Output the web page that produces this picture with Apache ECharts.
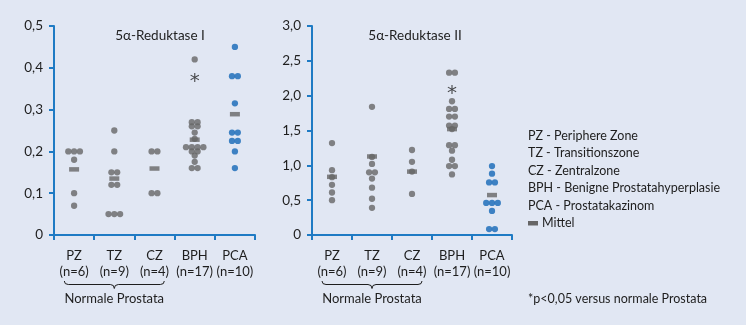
<!DOCTYPE html>
<html>
<head>
<meta charset="utf-8">
<script src="https://cdn.jsdelivr.net/npm/echarts@6/dist/echarts.min.js"></script>
<style>
  html, body { margin: 0; padding: 0; background: #e1e7f3; }
  #main { width: 746px; height: 325px; }
</style>
</head>
<body>
<div id="main"></div>
<script>
// categories and group sizes
var categories = ['PZ', 'TZ', 'CZ', 'BPH', 'PCA'];
var nLabels = ['(n=6)', '(n=9)', '(n=4)', '(n=17)', '(n=10)'];

// 5a-Reduktase I, single values per group
var r1_PZ = [0.2, 0.2, 0.2, 0.18, 0.1, 0.07];
var r1_TZ = [0.25, 0.2, 0.15, 0.15, 0.12, 0.12, 0.05, 0.05, 0.05];
var r1_CZ = [0.2, 0.2, 0.1, 0.1];
var r1_BPH = [0.42, 0.27, 0.27, 0.26, 0.26, 0.245, 0.23, 0.21, 0.21, 0.21, 0.21, 0.2, 0.2, 0.19, 0.175, 0.16, 0.16];
var r1_PCA = [0.45, 0.38, 0.38, 0.315, 0.245, 0.245, 0.225, 0.225, 0.2, 0.16];
var r1_mean = [0.157, 0.135, 0.159, 0.228, 0.289];
var r1_sig = [null, null, null, 0.378, null];
var r1_ticks = [0, 0.1, 0.2, 0.3, 0.4, 0.5];

// 5a-Reduktase II
var r2_PZ = [1.32, 0.93, 0.83, 0.72, 0.61, 0.5];
var r2_TZ = [1.84, 1.12, 1.02, 0.9, 0.9, 0.81, 0.68, 0.52, 0.39];
var r2_CZ = [1.22, 1.05, 0.91, 0.59];
var r2_BPH = [2.33, 2.33, 1.92, 1.81, 1.81, 1.7, 1.7, 1.57, 1.57, 1.52, 1.29, 1.29, 1.21, 1.08, 0.99, 0.99, 0.87];
var r2_PCA = [0.99, 0.88, 0.755, 0.755, 0.46, 0.46, 0.46, 0.345, 0.085, 0.085];
var r2_mean = [0.835, 1.127, 0.91, 1.52, 0.573];
var r2_sig = [null, null, null, 2.1, null];
var r2_ticks = [0, 0.5, 1, 1.5, 2, 2.5, 3];

var legendLines = [
  'PZ - Periphere Zone',
  'TZ - Transitionszone',
  'CZ - Zentralzone',
  'BPH - Benigne Prostatahyperplasie',
  'PCA - Prostatakazinom'
];

var GREY = '#666666';
var BLUE = '#1468b6';
var AXIS = '#1f7bc4';
var TEXT = '#1e1e1e';
var FONT = 'Lato';

// side by side dots for equal values
function swarm(groups) {
  var out = [];
  groups.forEach(function (vals, c) {
    var counts = {};
    vals.forEach(function (v) { counts[v] = (counts[v] || 0) + 1; });
    var seen = {};
    vals.forEach(function (v) {
      var n = counts[v];
      var i = seen[v] || 0;
      seen[v] = i + 1;
      out.push({
        value: [c, v],
        symbolOffset: [(i - (n - 1) / 2) * 5.8, 0],
        itemStyle: { color: c === 4 ? BLUE : GREY }
      });
    });
  });
  return out;
}

function fmt(v) {
  return v === 0 ? '0' : v.toFixed(1).replace('.', ',');
}

function makeAxes(idx, max, interval) {
  return {
    x: {
      type: 'category', gridIndex: idx, data: categories,
      axisLine: { lineStyle: { color: AXIS, width: 2 } },
      axisTick: { show: true, length: 5, interval: 0, lineStyle: { color: AXIS, width: 2 } },
      axisLabel: {
        color: TEXT, fontSize: 13, fontFamily: FONT, lineHeight: 16, margin: 13, interval: 0,
        formatter: function (v, i) { return v + '\n' + nLabels[i]; }
      },
      splitLine: { show: false }
    },
    y: {
      type: 'value', gridIndex: idx, min: 0, max: max, interval: interval,
      axisLine: { show: true, lineStyle: { color: AXIS, width: 2 } },
      axisTick: { show: true, length: 5, lineStyle: { color: AXIS, width: 2 } },
      axisLabel: { color: TEXT, fontSize: 13.5, fontFamily: FONT, margin: 11, formatter: fmt },
      splitLine: { show: false }
    }
  };
}

var a1 = makeAxes(0, r1_ticks[r1_ticks.length - 1], r1_ticks[1] - r1_ticks[0]);
var a2 = makeAxes(1, r2_ticks[r2_ticks.length - 1], r2_ticks[1] - r2_ticks[0]);

function chartSeries(idx, groups, means, sig) {
  return [
    {
      type: 'scatter', xAxisIndex: idx, yAxisIndex: idx, symbolSize: 6.3,
      data: swarm(groups), silent: true
    },
    {
      type: 'scatter', xAxisIndex: idx, yAxisIndex: idx, symbol: 'rect', symbolSize: [10, 4.5],
      itemStyle: { color: GREY },
      data: means.map(function (m, c) { return [c, m]; }), silent: true
    },
    {
      type: 'scatter', xAxisIndex: idx, yAxisIndex: idx, symbolSize: 1,
      itemStyle: { color: 'rgba(0,0,0,0)' },
      label: { show: true, position: 'inside', formatter: '*', color: TEXT, fontSize: 20, fontFamily: 'DejaVu Sans', offset: [0, 5] },
      data: sig.map(function (s, c) { return s === null ? null : [c, s]; }).filter(function (d) { return d; }),
      silent: true
    }
  ];
}

var myChart = echarts.init(document.getElementById('main'));

var option = {
  backgroundColor: '#e1e7f3',
  animation: false,
  title: [
    { text: '5\u03b1-Reduktase I', left: 155, top: 24, textAlign: 'center',
      textStyle: { fontSize: 13.5, fontWeight: 'normal', color: TEXT, fontFamily: FONT } },
    { text: '5\u03b1-Reduktase II', left: 410, top: 24, textAlign: 'center',
      textStyle: { fontSize: 13.5, fontWeight: 'normal', color: TEXT, fontFamily: FONT } }
  ],
  grid: [
    { left: 54, width: 201, top: 26, bottom: 90 },
    { left: 312, width: 200, top: 26, bottom: 90 }
  ],
  xAxis: [a1.x, a2.x],
  yAxis: [a1.y, a2.y],
  series: chartSeries(0, [r1_PZ, r1_TZ, r1_CZ, r1_BPH, r1_PCA], r1_mean, r1_sig)
    .concat(chartSeries(1, [r2_PZ, r2_TZ, r2_CZ, r2_BPH, r2_PCA], r2_mean, r2_sig))
};

myChart.setOption(option);

// curly brace under the normal prostate groups
function brace(xAxisIndex) {
  var xc = myChart.convertToPixel({ xAxisIndex: xAxisIndex }, 'TZ');
  var x0 = xc - 50, x1 = xc + 50;
  var y0 = 281, y1 = 284.5, y2 = 288.5, r = 4;
  var st = { stroke: TEXT, lineWidth: 1, fill: null };
  return [
    { type: 'bezierCurve', shape: { x1: x0, y1: y0, x2: x0 + r, y2: y1, cpx1: x0, cpy1: y1 }, style: st },
    { type: 'line', shape: { x1: x0 + r, y1: y1, x2: xc - r, y2: y1 }, style: st },
    { type: 'bezierCurve', shape: { x1: xc - r, y1: y1, x2: xc, y2: y2, cpx1: xc, cpy1: y1 }, style: st },
    { type: 'bezierCurve', shape: { x1: xc, y1: y2, x2: xc + r, y2: y1, cpx1: xc, cpy1: y1 }, style: st },
    { type: 'line', shape: { x1: xc + r, y1: y1, x2: x1 - r, y2: y1 }, style: st },
    { type: 'bezierCurve', shape: { x1: x1 - r, y1: y1, x2: x1, y2: y0, cpx1: x1, cpy1: y1 }, style: st },
    { type: 'text', x: xc, y: 299, style: { text: 'Normale Prostata', fill: TEXT, font: '13px ' + FONT, textAlign: 'center', textVerticalAlign: 'middle' } }
  ];
}

var graphics = brace(0).concat(brace(1));
legendLines.forEach(function (t, i) {
  graphics.push({ type: 'text', x: 528, y: 136 + i * 17.4,
    style: { text: t, fill: TEXT, font: '12.5px ' + FONT, textVerticalAlign: 'middle' } });
});
graphics.push({ type: 'rect', shape: { x: 528, y: 221, width: 10, height: 4.5 }, style: { fill: GREY } });
graphics.push({ type: 'text', x: 542, y: 223,
  style: { text: 'Mittel', fill: TEXT, font: '12.5px ' + FONT, textVerticalAlign: 'middle' } });
graphics.push({ type: 'text', x: 528, y: 299,
  style: { text: '*p<0,05 versus normale Prostata', fill: TEXT, font: '12.5px ' + FONT, textVerticalAlign: 'middle' } });

myChart.setOption({ graphic: graphics });
</script>
</body>
</html>
